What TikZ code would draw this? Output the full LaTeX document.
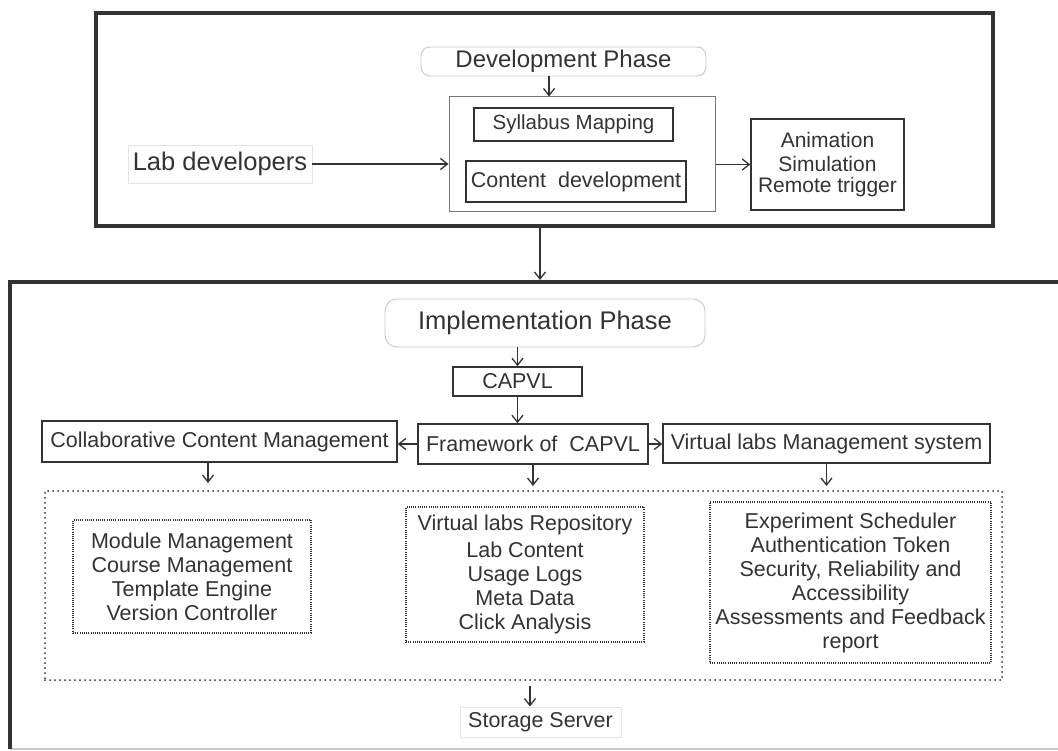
\documentclass[tikz,border=0pt]{standalone}
\usepackage{fontspec}
\setmainfont{Liberation Sans}
\usetikzlibrary{arrows.meta}
\definecolor{ink}{HTML}{333333}
\definecolor{midgray}{HTML}{777777}
\definecolor{lightgray}{HTML}{C8C8C8}
\definecolor{palegray}{HTML}{E4E4E4}
\tikzset{
  txt/.style={text=ink, align=center, inner sep=0pt},
  fs/.style={font=\fontsize{#1}{24}\selectfont},
  solidbox/.style={txt, draw=ink, line width=1.5pt},
  softbox/.style={txt, draw=lightgray, line width=0.9pt, rounded corners=9pt},
  palebox/.style={txt, draw=palegray, line width=0.9pt},
  dotbox/.style={txt, draw=ink, line width=1.3pt, dash pattern=on 1pt off 1.2pt},
  sparsedot/.style={draw=ink, line width=2pt, line cap=round, dash pattern=on 0pt off 5pt},
  frame/.style={draw=ink, line width=4pt},
  arr/.style={draw=ink, line width=1.3pt, -{Straight Barb[length=7pt,width=11pt,line width=1.3pt]}},
}
\begin{document}
\begin{tikzpicture}[x=1pt,y=-1pt]
\useasboundingbox (0,0) rectangle (1058,751);
\fill[white] (0,0) rectangle (1058,751);

% ---------- Development phase ----------
\node[frame, minimum width=897pt, minimum height=213pt, inner sep=0pt] (topbox) at (544.5,119.5) {};
\node[softbox, fs=24, minimum width=285pt, minimum height=29pt] (dev) at (563.5,61.5) {Development Phase};
\node[txt, draw=midgray, line width=1pt, minimum width=266pt, minimum height=115pt] (inner) at (582,154.5) {};
\node[solidbox, fs=20.5, minimum width=199pt, minimum height=33pt] (syl) at (573.5,124.5) {Syllabus Mapping};
\node[solidbox, fs=21.5, minimum width=220pt, minimum height=41pt] (cont) at (576,181.5) {Content\ \ development};
\node[palebox, fs=25.5, minimum width=184pt, minimum height=38pt] (lab) at (220,164) {Lab developers};
\node[solidbox, fs=21, minimum width=153pt, minimum height=91pt] (anim) at (827.5,164.5)
  {\fontsize{21}{28}\selectfont Animation\\Simulation\\[-3pt]Remote trigger};

\coordinate (c1) at (549,0);
\draw[arr] (dev.south -| c1) -- (inner.north -| c1);
\draw[arr] (lab.east) -- (inner.west |- lab.east);
\draw[arr] (inner.east |- anim.west) -- (anim.west);

% ---------- Implementation phase frame ----------
\coordinate (btl) at (10,282);
\coordinate (btr) at (1070,282);
\coordinate (bbl) at (10,749);
\draw[draw=lightgray, line width=2pt] (bbl) -- (1070,749);
\draw[frame] (btr) -- (btl) -- (bbl);
\coordinate (c2) at (540,0);
\draw[arr, shorten >=2pt] (topbox.south -| c2) -- (btl -| c2);

\node[softbox, fs=25.5, rounded corners=12pt, minimum width=320pt, minimum height=48pt] (impl) at (545,323) {Implementation Phase};
\node[solidbox, fs=21.5, minimum width=129pt, minimum height=29pt] (capvl) at (517.5,381.5) {CAPVL};
\node[solidbox, fs=21.5, minimum width=230pt, minimum height=40pt] (fw) at (533,444) {Framework of\ \ CAPVL};
\node[solidbox, fs=21.5, minimum width=327pt, minimum height=39pt] (vlms) at (826.5,443.5) {Virtual labs Management system};
\node[solidbox, fs=21.5, minimum width=355pt, minimum height=41pt] (collab) at (219.5,441.5) {Collaborative Content Management};

\draw[arr] (capvl.north |- impl.south) -- (capvl.north);
\draw[arr] (capvl.south) -- (capvl.south |- fw.north);
\draw[arr] (fw.west) -- (collab.east |- fw.west);
\draw[arr] (fw.east) -- (vlms.west |- fw.east);

% ---------- dotted group ----------
\node[sparsedot, minimum width=957pt, minimum height=189pt, inner sep=0pt] (big) at (523.5,585.5) {};
\node[dotbox, fs=21.5, minimum width=238pt, minimum height=113pt] (mod) at (192,576.5)
  {Module Management\\Course Management\\Template Engine\\Version Controller};
\node[dotbox, fs=21.5, minimum width=238pt, minimum height=135pt] (repo) at (525,574.5)
  {Virtual labs Repository\\[3pt]Lab Content\\Usage Logs\\Meta Data\\Click Analysis};
\node[dotbox, fs=21.5, minimum width=281pt, minimum height=161pt] (ret) at (850.5,582.5)
  {Experiment Scheduler\\Authentication Token\\Security, Reliability and\\Accessibility\\Assessments and Feedback\\report};

\coordinate (c3) at (208,0);
\draw[arr, shorten >=7pt] (collab.south -| c3) -- (big.north -| c3);
\draw[arr, shorten >=4pt] (fw.south) -- (fw.south |- big.north);
\draw[arr, shorten >=4pt] (vlms.south) -- (vlms.south |- big.north);

\node[palebox, fs=21.5, minimum width=161pt, minimum height=30pt] (store) at (540.5,722) {Storage Server};
\coordinate (c4) at (530,0);
\draw[arr, shorten <=5pt] (big.south -| c4) -- (store.north -| c4);
\end{tikzpicture}
\end{document}
